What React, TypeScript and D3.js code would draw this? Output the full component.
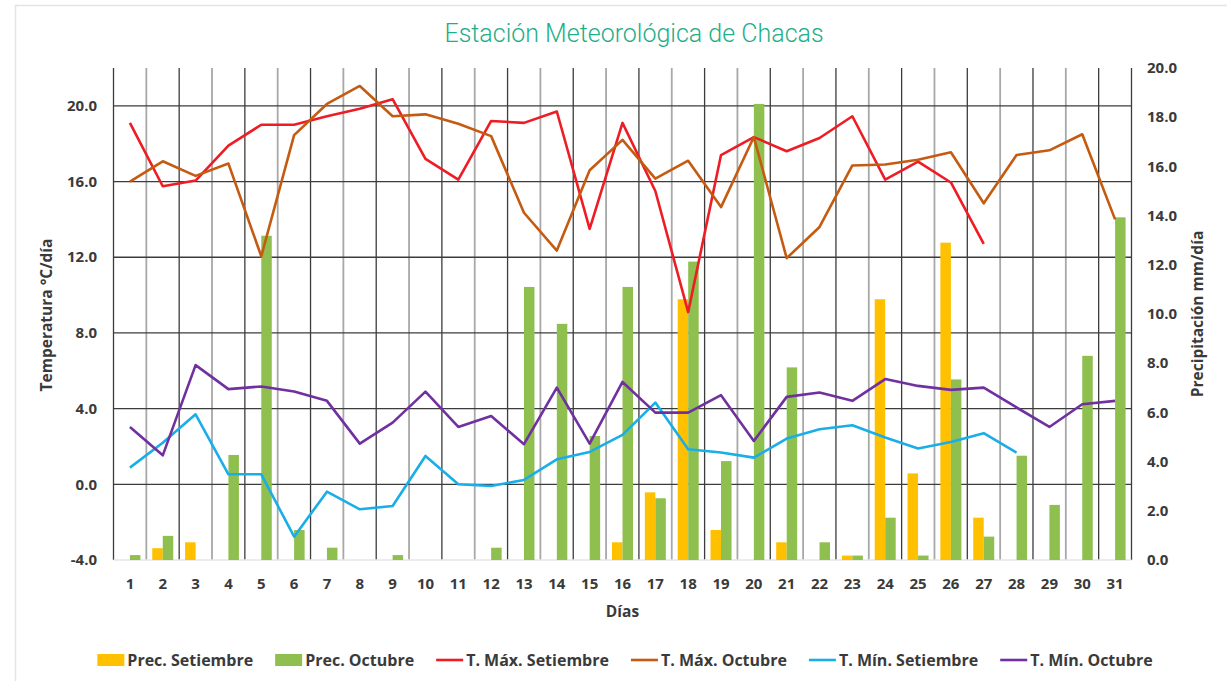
import React, { useRef, useEffect } from 'react';
import * as d3 from 'd3';

const days = ['1','2','3','4','5','6','7','8','9','10','11','12','13','14','15','16','17','18','19','20','21','22','23','24','25','26','27','28','29','30','31'];

// precipitation mm/dia
const precSet = [0, 0.48, 0.72, 0, 0, 0, 0, 0, 0, 0, 0, 0, 0, 0, 0, 0.72, 2.75, 10.6, 1.22, 0, 0.72, 0, 0.18, 10.6, 3.52, 12.9, 1.72, 0, 0, 0, 0];
const precOct = [0.2, 0.98, 0, 4.27, 13.18, 1.22, 0.5, 0, 0.2, 0, 0, 0.5, 11.1, 9.6, 5.04, 11.1, 2.51, 12.13, 4.02, 18.54, 7.83, 0.72, 0.18, 1.72, 0.18, 7.34, 0.95, 4.24, 2.24, 8.3, 13.93];

// temperatures °C
const tMaxSet = [19.1, 15.75, 16.05, 17.9, 19.0, 19.0, 19.45, 19.85, 20.35, 17.2, 16.1, 19.2, 19.1, 19.7, 13.5, 19.1, 15.5, 9.1, 17.4, 18.35, 17.6, 18.3, 19.45, 16.1, 17.05, 15.95, 12.7, null, null, null, null];
const tMaxOct = [16.0, 17.07, 16.3, 16.95, 12.05, 18.45, 20.1, 21.05, 19.45, 19.55, 19.05, 18.4, 14.35, 12.35, 16.6, 18.2, 16.15, 17.1, 14.65, 18.35, 11.95, 13.6, 16.85, 16.9, 17.15, 17.55, 14.85, 17.4, 17.65, 18.5, 14.0];
const tMinSet = [0.88, 2.2, 3.7, 0.53, 0.53, -2.77, -0.39, -1.32, -1.15, 1.5, 0.0, -0.09, 0.23, 1.32, 1.71, 2.61, 4.32, 1.85, 1.68, 1.41, 2.42, 2.91, 3.12, 2.47, 1.89, 2.24, 2.7, 1.68, null, null, null];
const tMinOct = [3.03, 1.53, 6.3, 5.03, 5.17, 4.9, 4.41, 2.15, 3.26, 4.9, 3.03, 3.61, 2.12, 5.11, 2.15, 5.41, 3.79, 3.79, 4.71, 2.29, 4.62, 4.85, 4.41, 5.56, 5.2, 4.99, 5.11, 4.06, 3.03, 4.23, 4.41];

const tempTicks = [-4, 0, 4, 8, 12, 16, 20];
const precTicks = [0, 2, 4, 6, 8, 10, 12, 14, 16, 18, 20];

const lineSeries = [
  { label: 'T. Máx. Setiembre', values: tMaxSet, color: '#ee1c24' },
  { label: 'T. Máx. Octubre', values: tMaxOct, color: '#c55a11' },
  { label: 'T. Mín. Setiembre', values: tMinSet, color: '#1aaee8' },
  { label: 'T. Mín. Octubre', values: tMinOct, color: '#7030a0' },
];
const barSeries = [
  { label: 'Prec. Setiembre', values: precSet, color: '#ffc000' },
  { label: 'Prec. Octubre', values: precOct, color: '#8fc04f' },
];

const FONT = "'Open Sans', 'Liberation Sans', sans-serif";

export default function App() {
  const ref = useRef<SVGSVGElement>(null);

  useEffect(() => {
    const W = 1227, H = 681;
    const left = 113.5, right = 1131.5, top = 68, bottom = 560;

    const svg = d3.select(ref.current);
    svg.selectAll('*').remove();
    svg.attr('width', W).attr('height', H);

    // frame
    svg.append('path')
      .attr('d', `M15.5,${H} V5.5 H${W}`)
      .attr('fill', 'none')
      .attr('stroke', '#e4e4e4')
      .attr('stroke-width', 1.5);

    const x = d3.scaleBand<string>().domain(days).range([left, right]);
    const yT = d3.scaleLinear().domain([-4, 22]).range([bottom, top]);
    const yP = d3.scaleLinear().domain([0, 20]).range([bottom, top]);

    // vertical grid lines
    const bounds = days.map(d => x(d) as number).concat([right]);
    svg.append('g')
      .selectAll('line')
      .data(bounds)
      .enter()
      .append('line')
      .attr('x1', d => d).attr('x2', d => d)
      .attr('y1', top).attr('y2', bottom)
      .attr('stroke', (d, i) => (i % 2 === 0 || i === bounds.length - 1) ? '#3c3c3c' : '#a8a8a8')
      .attr('stroke-width', (d, i) => (i % 2 === 0 || i === bounds.length - 1) ? 1.3 : 1.8);

    // horizontal grid lines
    svg.append('g')
      .selectAll('line')
      .data(tempTicks.filter(t => t > -4))
      .enter()
      .append('line')
      .attr('x1', left).attr('x2', right)
      .attr('y1', d => yT(d)).attr('y2', d => yT(d))
      .attr('stroke', '#3c3c3c')
      .attr('stroke-width', 1.3);
    svg.append('line')
      .attr('x1', left).attr('x2', right)
      .attr('y1', bottom).attr('y2', bottom)
      .attr('stroke', '#e6e6e6')
      .attr('stroke-width', 1.5);

    // bars
    const barW = 10.5;
    const bw = x.bandwidth();
    barSeries.forEach((s, si) => {
      svg.append('g')
        .selectAll('rect')
        .data(s.values)
        .enter()
        .append('rect')
        .attr('x', (d, i) => (x(days[i]) as number) + bw / 2 - barW + si * barW)
        .attr('width', barW)
        .attr('y', d => yP(d))
        .attr('height', d => yP(0) - yP(d))
        .attr('fill', s.color);
    });

    // lines
    lineSeries.forEach(s => {
      const line = d3.line<number | null>()
        .defined(d => d != null)
        .x((d, i) => (x(days[i]) as number) + bw / 2)
        .y(d => yT(d as number));
      svg.append('path')
        .datum(s.values)
        .attr('d', line)
        .attr('fill', 'none')
        .attr('stroke', s.color)
        .attr('stroke-width', 2.6)
        .attr('stroke-linejoin', 'round');
    });

    const txt = (g: any) => g.style('font-family', FONT).style('font-weight', 700).style('fill', '#3a3a3a');

    // left ticks
    svg.append('g').selectAll('text')
      .data(tempTicks)
      .enter()
      .append('text')
      .attr('x', 97)
      .attr('y', d => yT(d))
      .attr('dy', '0.35em')
      .attr('text-anchor', 'end')
      .style('font-size', '15px')
      .text(d => d.toFixed(1))
      .call(txt);

    // right ticks
    svg.append('g').selectAll('text')
      .data(precTicks)
      .enter()
      .append('text')
      .attr('x', 1147)
      .attr('y', d => yP(d))
      .attr('dy', '0.35em')
      .attr('text-anchor', 'start')
      .style('font-size', '15px')
      .text(d => d.toFixed(1))
      .call(txt);

    // day labels
    svg.append('g').selectAll('text')
      .data(days)
      .enter()
      .append('text')
      .attr('x', d => (x(d) as number) + bw / 2)
      .attr('y', 584)
      .attr('dy', '0.35em')
      .attr('text-anchor', 'middle')
      .style('font-size', '15px')
      .text(d => d)
      .call(txt);

    // axis titles
    svg.append('text')
      .attr('transform', `translate(52,${(top + bottom) / 2 + 1}) rotate(-90)`)
      .attr('text-anchor', 'middle')
      .style('font-size', '15.5px')
      .text('Temperatura °C/día')
      .call(txt);
    svg.append('text')
      .attr('transform', `translate(1203,${(top + bottom) / 2}) rotate(-90)`)
      .attr('text-anchor', 'middle')
      .style('font-size', '15.5px')
      .text('Precipitación mm/día')
      .call(txt);
    svg.append('text')
      .attr('x', (left + right) / 2)
      .attr('y', 617)
      .attr('text-anchor', 'middle')
      .style('font-size', '15.5px')
      .text('Días')
      .call(txt);

    // title
    svg.append('text')
      .attr('x', 634)
      .attr('y', 42)
      .attr('text-anchor', 'middle')
      .style('font-family', "Roboto, 'Noto Sans', sans-serif")
      .style('font-size', '25px')
      .style('font-weight', 300)
      .style('fill', '#1fae88')
      .text('Estación Meteorológica de Chacas');

    // legend
    const legendItems = [
      ...barSeries.map(s => ({ label: s.label, color: s.color, kind: 'bar' })),
      ...lineSeries.map(s => ({ label: s.label, color: s.color, kind: 'line' })),
    ];
    const lg = svg.append('g');
    let cx = 0;
    const ly = 660;
    const gap = 22;
    legendItems.forEach(it => {
      if (it.kind === 'bar') {
        lg.append('rect')
          .attr('x', cx).attr('y', ly - 6)
          .attr('width', 27).attr('height', 12)
          .attr('fill', it.color);
      } else {
        lg.append('line')
          .attr('x1', cx).attr('x2', cx + 27)
          .attr('y1', ly).attr('y2', ly)
          .attr('stroke', it.color)
          .attr('stroke-width', 2.6);
      }
      const t = lg.append('text')
        .attr('x', cx + 30)
        .attr('y', ly)
        .attr('dy', '0.35em')
        .style('font-size', '16px')
        .text(it.label)
        .call(txt);
      const w = (t.node() as SVGTextElement).getComputedTextLength();
      cx += 30 + w + gap;
    });
    const total = cx - gap;
    lg.attr('transform', `translate(${625 - total / 2},0)`);
  }, []);

  return (
    <div style={{ position: 'absolute', left: 0, top: 0 }}>
      <svg ref={ref} style={{ display: 'block', background: '#fff' }}></svg>
    </div>
  );
}
